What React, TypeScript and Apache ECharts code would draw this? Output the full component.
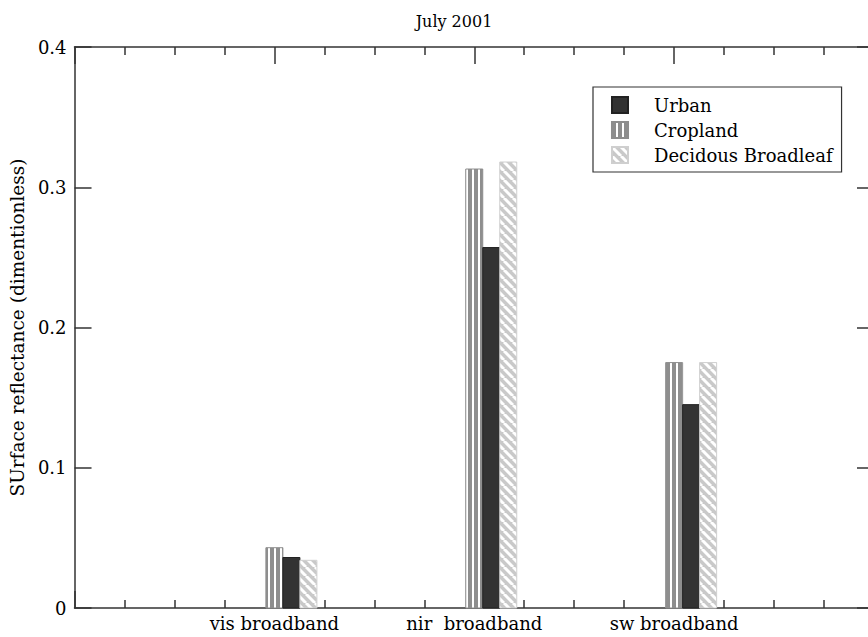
import React, { useEffect, useRef } from "react";
import * as echarts from "echarts";

// Spectral bands and where they sit on the x axis
const bandLabels = ["vis broadband", "nir  broadband", "sw broadband"];
const bandPositions = [1, 2, 3];

// Surface reflectance per land-cover type
const urban = [0.036, 0.257, 0.145];
const cropland = [0.043, 0.313, 0.175];
const deciduous = [0.034, 0.318, 0.175];

const yTicks = [0, 0.1, 0.2, 0.3, 0.4];

const FONT = "DejaVu Serif";
const AXIS_COLOR = "#333";
const BAR_WIDTH = 17;

function verticalStripes(): HTMLCanvasElement {
  const c = document.createElement("canvas");
  c.width = 6;
  c.height = 6;
  const ctx = c.getContext("2d")!;
  ctx.fillStyle = "#ffffff";
  ctx.fillRect(0, 0, 6, 6);
  ctx.fillStyle = "#8e8e8e";
  ctx.fillRect(0, 0, 4, 6);
  return c;
}

function diagonalStripes(): HTMLCanvasElement {
  const n = 9;
  const c = document.createElement("canvas");
  c.width = n;
  c.height = n;
  const ctx = c.getContext("2d")!;
  ctx.fillStyle = "#c9c9c9";
  ctx.fillRect(0, 0, n, n);
  ctx.strokeStyle = "#ffffff";
  ctx.lineWidth = 3;
  for (let k = -1; k <= 1; k++) {
    ctx.beginPath();
    ctx.moveTo(k * n, 0);
    ctx.lineTo(k * n + n, n);
    ctx.stroke();
  }
  return c;
}

export default function App() {
  const ref = useRef<HTMLDivElement>(null);

  useEffect(() => {
    document.body.style.margin = "0";
    document.body.style.overflow = "hidden";
    document.documentElement.style.overflow = "hidden";
    if (!ref.current) return;
    const chart = echarts.init(ref.current, undefined, { renderer: "svg" });

    // slot 0 = left bar, 1 = middle, 2 = right within each band
    const makeRender = (slot: number) => (params: any, api: any) => {
      const x = api.value(0);
      const y = api.value(1);
      const base = api.coord([x, 0]);
      const top = api.coord([x, y]);
      return {
        type: "rect",
        shape: {
          x: base[0] - BAR_WIDTH / 2 + slot * BAR_WIDTH,
          y: top[1],
          width: BAR_WIDTH,
          height: base[1] - top[1],
        },
        style: api.style(),
      };
    };

    const toPairs = (vals: number[]) => vals.map((v, i) => [bandPositions[i], v]);

    const labelFor = (v: number) => {
      const i = bandPositions.indexOf(v);
      return i >= 0 ? bandLabels[i] : "";
    };

    const tickStyle = { color: AXIS_COLOR, width: 1.5 };

    const xBase = {
      type: "value" as const,
      min: 0,
      max: 4,
      interval: 1,
      axisLine: { show: true, onZero: false, lineStyle: tickStyle },
      axisTick: { show: true, inside: true, length: 17, lineStyle: tickStyle },
      minorTick: { show: true, splitNumber: 4, length: 8, lineStyle: tickStyle },
      splitLine: { show: false },
      minorSplitLine: { show: false },
    };

    const yBase = {
      type: "value" as const,
      min: yTicks[0],
      max: yTicks[yTicks.length - 1],
      interval: 0.1,
      axisLine: { show: true, onZero: false, lineStyle: tickStyle },
      axisTick: { show: true, inside: true, length: 17, lineStyle: tickStyle },
      splitLine: { show: false },
    };

    chart.setOption({
      animation: false,
      backgroundColor: "#ffffff",
      title: {
        text: "July 2001",
        left: 449,
        top: 8,
        textAlign: "center",
        textStyle: { fontFamily: FONT, fontSize: 16, fontWeight: "normal", color: "#000" },
      },
      legend: {
        orient: "vertical",
        left: 593,
        top: 87,
        padding: [9, 9, 8, 18],
        itemGap: 7,
        itemWidth: 16,
        itemHeight: 16,
        icon: "rect",
        borderColor: AXIS_COLOR,
        borderWidth: 1.2,
        selectedMode: false,
        data: ["Urban", "Cropland", "Decidous Broadleaf"],
        textStyle: {
          fontFamily: FONT,
          fontSize: 18,
          color: "#000",
          padding: [0, 0, 0, 21],
        },
      },
      // plot frame runs from x=74 to x=874; the right edge lies just past the visible page
      grid: { left: 74, top: 47, bottom: 29, right: 6 },
      xAxis: [
        {
          ...xBase,
          position: "bottom",
          axisLabel: {
            show: true,
            margin: 6,
            fontFamily: FONT,
            fontSize: 18,
            color: "#000",
            formatter: (v: number) => labelFor(v),
          },
        },
        { ...xBase, position: "top", axisLabel: { show: false } },
      ],
      yAxis: [
        {
          ...yBase,
          position: "left",
          name: "SUrface reflectance (dimentionless)",
          nameLocation: "middle",
          nameGap: 39,
          nameTextStyle: { fontFamily: FONT, fontSize: 18.5, color: "#000" },
          axisLabel: {
            show: true,
            margin: 8,
            fontFamily: FONT,
            fontSize: 18,
            color: "#000",
            formatter: (v: number) => (v === 0 ? "0" : String(Math.round(v * 10) / 10)),
          },
        },
        { ...yBase, position: "right", axisLabel: { show: false } },
      ],
      series: [
        {
          name: "Cropland",
          type: "custom",
          renderItem: makeRender(0),
          encode: { x: 0, y: 1 },
          itemStyle: {
            color: { image: verticalStripes(), repeat: "repeat" },
            borderColor: "#8e8e8e",
            borderWidth: 1,
          },
          data: toPairs(cropland),
        },
        {
          name: "Urban",
          type: "custom",
          renderItem: makeRender(1),
          encode: { x: 0, y: 1 },
          itemStyle: { color: "#333333", borderColor: "#222222", borderWidth: 1 },
          data: toPairs(urban),
        },
        {
          name: "Decidous Broadleaf",
          type: "custom",
          renderItem: makeRender(2),
          encode: { x: 0, y: 1 },
          itemStyle: {
            color: { image: diagonalStripes(), repeat: "repeat" },
            borderColor: "#cfcfcf",
            borderWidth: 1,
          },
          data: toPairs(deciduous),
        },
      ],
    });

    return () => chart.dispose();
  }, []);

  return <div ref={ref} style={{ width: 880, height: 637 }} />;
}
